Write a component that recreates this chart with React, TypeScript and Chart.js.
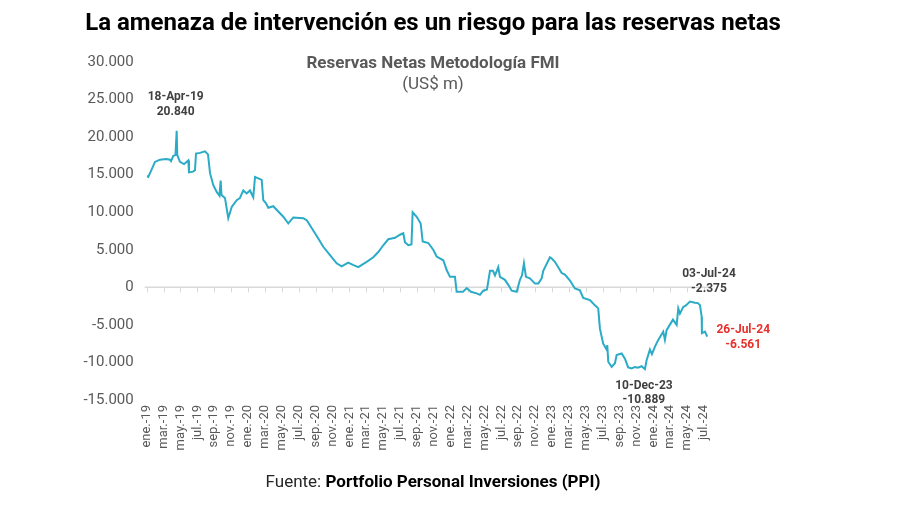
import React, { useEffect, useRef } from "react";
import { Chart, registerables } from "chart.js";

Chart.register(...registerables);

// Tick labels every two months (ene.-19 ... jul.-24)
const monthLabels = [
  "ene.-19", "mar.-19", "may.-19", "jul.-19", "sep.-19", "nov.-19",
  "ene.-20", "mar.-20", "may.-20", "jul.-20", "sep.-20", "nov.-20",
  "ene.-21", "mar.-21", "may.-21", "jul.-21", "sep.-21", "nov.-21",
  "ene.-22", "mar.-22", "may.-22", "jul.-22", "sep.-22", "nov.-22",
  "ene.-23", "mar.-23", "may.-23", "jul.-23", "sep.-23", "nov.-23",
  "ene.-24", "mar.-24", "may.-24", "jul.-24",
];

// Time of each observation, in months since 1 Jan 2019
const months = [
  0, 0.19, 0.63, 0.98, 1.58, 2.29, 2.76, 2.88, 3.15, 3.41,
  3.55, 3.62, 3.94, 4.42, 4.93, 5.01, 5.48, 5.72, 5.84, 6.31,
  6.9, 7.26, 7.5, 7.89, 8.29, 8.62, 8.76, 8.86, 9.27, 9.66,
  10.07, 10.66, 11.05, 11.44, 11.84, 12.23, 12.62, 12.83, 13.62, 13.81,
  14.13, 14.4, 14.99, 15.58, 16.18, 16.77, 17.36, 18.55, 18.98, 19.54,
  20.32, 20.91, 21.71, 22.5, 23.09, 23.87, 24.43, 25.06, 26.05, 26.84,
  27.43, 28.02, 28.61, 29.41, 30.0, 30.39, 30.59, 30.98, 31.36, 31.5,
  31.98, 32.45, 32.69, 33.35, 33.94, 34.34, 35.13, 35.53, 35.92, 36.51,
  36.71, 37.46, 37.9, 38.41, 39.08, 39.47, 39.86, 40.3, 40.66, 41.01,
  41.25, 41.64, 41.84, 42.43, 42.79, 43.23, 43.82, 44.21, 44.45, 44.68,
  44.92, 45.39, 45.99, 46.38, 46.78, 46.97, 47.76, 48.0, 48.35, 49.15,
  49.54, 50.13, 50.72, 51.31, 51.7, 52.5, 53.09, 53.48, 53.68, 54.07,
  54.48, 54.55, 54.67, 55.07, 55.46, 55.66, 56.25, 56.64, 57.03, 57.43,
  57.83, 58.18, 58.62, 59.01, 59.21, 59.6, 59.84, 60.2, 60.59, 61.18,
  61.38, 61.58, 62.17, 62.33, 62.77, 62.96, 63.16, 63.55, 63.87, 64.34,
  64.93, 65.29, 65.53, 65.73, 65.76, 66.12, 66.39,
];

// Reservas netas metodología FMI (US$ m)
const reserves = [
  14800, 14700, 15800, 16700, 17000, 17100, 17000, 16800, 17500, 17600,
  20840, 17600, 16700, 16400, 16900, 15300, 15400, 15600, 17800, 17900,
  18100, 17700, 15200, 13600, 12700, 12200, 14200, 12300, 11900, 9200,
  10700, 11600, 11900, 12900, 12500, 12900, 12000, 14700, 14300, 11600,
  11200, 10600, 10800, 10100, 9400, 8500, 9300, 9200, 8900, 7900,
  6500, 5400, 4300, 3200, 2800, 3300, 3000, 2700, 3400, 4000,
  4700, 5600, 6400, 6600, 7000, 7200, 6000, 5600, 5700, 10000,
  9400, 8500, 6100, 5900, 5000, 4100, 3600, 2300, 1400, 1400,
  -600, -600, -100, -600, -800, -1000, -450, -300, 2200, 2200,
  1600, 2700, 1400, 1000, 400, -450, -600, 1000, 1600, 3200,
  1400, 1200, 500, 500, 1200, 2200, 4000, 3800, 3400, 1900,
  1700, 900, -150, -400, -1400, -1700, -2400, -2800, -5500, -7500,
  -8300, -7700, -9900, -10600, -10100, -9000, -8800, -9500, -10650, -10800,
  -10600, -10700, -10500, -10889, -9700, -8300, -8900, -7900, -7000, -5900,
  -7000, -5700, -4600, -4300, -5000, -2800, -3500, -2600, -2400, -1900,
  -2050, -2100, -2375, -3900, -6100, -5900, -6561,
];

// Highlighted observations
const annotationDates = ["18-Apr-19", "03-Jul-24", "26-Jul-24", "10-Dec-23"];
const annotationMonths = [3.55, 65.53, 66.39, 59.01];
const annotationValues = [20840, -2375, -6561, -10889];
const annotationStyles = [
  { dx: -1, dy1: -33.5, dy2: -19, color: "#404040" },
  { dx: 9, dy1: -31, dy2: -16.5, color: "#404040" },
  { dx: 36, dy1: -6.5, dy2: 8, color: "#e8302c" },
  { dx: -1, dy1: 16.5, dy2: 31, color: "#404040" },
];

const yMin = -15000;
const yMax = 30000;
const yStep = 5000;

const FONT = "Roboto, 'Noto Sans', Arial, sans-serif";

function fmt(v: number): string {
  const neg = v < 0;
  const s = Math.round(Math.abs(v)).toString().replace(/\B(?=(\d{3})+(?!\d))/g, ".");
  return (neg ? "-" : "") + s;
}

const zeroLinePlugin = {
  id: "zeroLine",
  beforeDatasetsDraw(chart: any) {
    const { ctx, chartArea, scales } = chart;
    const y0 = scales.y.getPixelForValue(0);
    ctx.save();
    ctx.strokeStyle = "#d9d9d9";
    ctx.lineWidth = 1.5;
    ctx.beginPath();
    ctx.moveTo(chartArea.left - 2, y0);
    ctx.lineTo(chartArea.right, y0);
    ctx.stroke();
    ctx.lineWidth = 1;
    monthLabels.forEach((_, i) => {
      const x = Math.round(scales.x.getPixelForValue(i * 2)) + 0.5;
      ctx.beginPath();
      ctx.moveTo(x, y0);
      ctx.lineTo(x, y0 + 5);
      ctx.stroke();
    });
    ctx.restore();
  },
};

const annotationPlugin = {
  id: "pointLabels",
  afterDatasetsDraw(chart: any) {
    const { ctx, scales } = chart;
    ctx.save();
    ctx.font = `bold 12px ${FONT}`;
    ctx.textAlign = "center";
    ctx.textBaseline = "middle";
    annotationDates.forEach((d, i) => {
      const st = annotationStyles[i];
      const px = scales.x.getPixelForValue(annotationMonths[i]);
      const py = scales.y.getPixelForValue(annotationValues[i]);
      ctx.fillStyle = st.color;
      ctx.fillText(d, px + st.dx, py + st.dy1);
      ctx.fillText(fmt(annotationValues[i]), px + st.dx, py + st.dy2);
    });
    ctx.restore();
  },
};

export default function App() {
  const canvasRef = useRef<HTMLCanvasElement | null>(null);

  useEffect(() => {
    document.body.style.margin = "0";
    const canvas = canvasRef.current;
    if (!canvas) return;
    const data = months.map((m, i) => ({ x: m, y: reserves[i] }));
    const chart = new Chart(canvas, {
      type: "line",
      data: {
        datasets: [
          {
            data,
            borderColor: "#2aabc6",
            borderWidth: 2,
            pointRadius: 0,
            tension: 0,
            fill: false,
          },
        ],
      },
      options: {
        animation: false,
        responsive: false,
        devicePixelRatio: 1,
        layout: { padding: { left: 0, right: 191, top: 62, bottom: 45 } },
        plugins: {
          legend: { display: false },
          tooltip: { enabled: false },
          title: { display: false },
        },
        scales: {
          x: {
            type: "linear",
            min: 0,
            max: 66.6,
            grid: { display: false, drawTicks: false },
            border: { display: false },
            afterBuildTicks: (scale: any) => {
              scale.ticks = monthLabels.map((_, i) => ({ value: i * 2 }));
            },
            afterFit: (scale: any) => {
              scale.height = 60;
            },
            ticks: {
              autoSkip: false,
              maxRotation: 90,
              minRotation: 90,
              padding: 5,
              color: "#595959",
              font: { family: FONT, size: 13 },
              callback: (v: any) => {
                const idx = Math.round(Number(v) / 2);
                return monthLabels[idx] ?? "";
              },
            },
          },
          y: {
            min: yMin,
            max: yMax,
            grid: { display: false, drawTicks: false },
            border: { display: false },
            afterFit: (scale: any) => {
              scale.width = 146.7;
            },
            ticks: {
              stepSize: yStep,
              padding: 13,
              color: "#595959",
              font: { family: FONT, size: 15 },
              callback: (v: any) => fmt(Number(v)),
            },
          },
        },
      },
      plugins: [zeroLinePlugin, annotationPlugin],
    });
    return () => chart.destroy();
  }, []);

  return (
    <div
      style={{
        position: "absolute",
        left: 0,
        top: 0,
        width: 900,
        height: 505,
        background: "#ffffff",
        fontFamily: FONT,
        overflow: "hidden",
      }}
    >
      <canvas
        ref={canvasRef}
        width={900}
        height={505}
        style={{ position: "absolute", left: 0, top: 0, width: 900, height: 505 }}
      />
      <div
        style={{
          position: "absolute",
          left: 0,
          top: 8,
          width: 866,
          textAlign: "center",
          fontSize: 24,
          lineHeight: "28px",
          fontWeight: 700,
          color: "#000000",
          whiteSpace: "nowrap",
        }}
      >
        La amenaza de intervención es un riesgo para las reservas netas
      </div>
      <div
        style={{
          position: "absolute",
          left: 0,
          top: 52,
          width: 866,
          textAlign: "center",
          fontSize: 17,
          lineHeight: "21px",
          color: "#595959",
          whiteSpace: "nowrap",
        }}
      >
        <div style={{ fontWeight: 700 }}>Reservas Netas Metodología FMI</div>
        <div>(US$ m)</div>
      </div>
      <div
        style={{
          position: "absolute",
          left: 0,
          top: 471,
          width: 866,
          textAlign: "center",
          fontSize: 17,
          lineHeight: "20px",
          color: "#000000",
          whiteSpace: "nowrap",
        }}
      >
        <span style={{ color: "#262626" }}>Fuente: </span>
        <span style={{ fontWeight: 700 }}>Portfolio Personal Inversiones (PPI)</span>
      </div>
    </div>
  );
}
